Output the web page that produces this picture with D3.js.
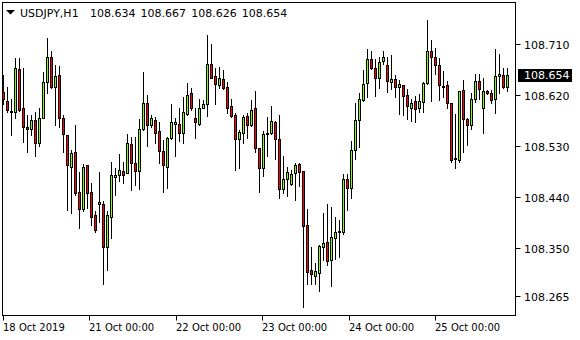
<!DOCTYPE html>
<html><head><meta charset="utf-8">
<script src="https://cdn.jsdelivr.net/npm/d3@7/dist/d3.min.js"></script>
<style>
html,body{margin:0;padding:0;background:#fff;}
svg{display:block;}
text{font-family:"DejaVu Sans",sans-serif;fill:#000;}
</style></head>
<body>
<svg id="chart" width="580" height="340"></svg>
<script>
const symbol = "USDJPY,H1";
const open = [108.624,108.609,108.590,108.590,108.665,108.596,108.562,108.560,108.575,108.534,
108.579,108.642,108.686,108.634,108.654,108.578,108.549,108.493,108.519,108.448,
108.418,108.495,108.448,108.407,108.427,108.428,108.351,108.405,108.475,108.479,
108.486,108.481,108.533,108.499,108.486,108.559,108.605,108.567,108.576,108.555,
108.520,108.493,108.543,108.569,108.569,108.552,108.586,108.622,108.579,108.569,
108.597,108.604,108.674,108.653,108.637,108.647,108.633,108.600,108.584,108.541,
108.553,108.582,108.566,108.596,108.525,108.491,108.550,108.553,108.572,108.542,
108.454,108.471,108.462,108.481,108.497,108.485,108.391,108.310,108.301,108.306,
108.351,108.360,108.329,108.368,108.377,108.377,108.471,108.455,108.523,108.576,
108.610,108.640,108.683,108.667,108.650,108.679,108.672,108.643,108.647,108.634,
108.636,108.620,108.597,108.608,108.596,108.607,108.640,108.697,108.686,108.672,
108.635,108.636,108.605,108.508,108.505,108.628,108.577,108.567,108.613,108.644,
108.597,108.626,108.622,108.612,108.652,108.654,108.634];
const high = [108.654,108.633,108.612,108.684,108.684,108.667,108.584,108.584,108.590,108.597,
108.660,108.719,108.697,108.672,108.670,108.584,108.549,108.522,108.566,108.484,
108.497,108.495,108.465,108.414,108.484,108.432,108.414,108.502,108.490,108.515,
108.502,108.550,108.546,108.546,108.577,108.660,108.619,108.584,108.581,108.572,
108.540,108.546,108.603,108.578,108.597,108.616,108.640,108.631,108.596,108.613,
108.610,108.725,108.710,108.666,108.668,108.663,108.643,108.613,108.588,108.558,
108.584,108.587,108.610,108.626,108.525,108.556,108.580,108.600,108.573,108.584,
108.511,108.493,108.487,108.499,108.500,108.485,108.418,108.352,108.323,108.355,
108.411,108.427,108.421,108.405,108.399,108.480,108.480,108.538,108.606,108.623,
108.663,108.701,108.697,108.683,108.686,108.697,108.686,108.690,108.654,108.646,
108.637,108.629,108.613,108.618,108.621,108.643,108.751,108.716,108.702,108.684,
108.662,108.644,108.606,108.586,108.626,108.646,108.579,108.622,108.656,108.657,
108.650,108.628,108.628,108.701,108.691,108.666,108.667];
const low = [108.603,108.590,108.548,108.578,108.591,108.537,108.519,108.549,108.511,108.530,
108.578,108.622,108.632,108.566,108.563,108.518,108.417,108.412,108.443,108.384,
108.415,108.420,108.390,108.377,108.396,108.287,108.311,108.368,108.443,108.468,
108.465,108.481,108.451,108.461,108.453,108.558,108.530,108.563,108.535,108.499,
108.449,108.455,108.542,108.511,108.538,108.534,108.584,108.593,108.544,108.566,
108.596,108.583,108.649,108.603,108.632,108.630,108.587,108.581,108.487,108.490,
108.535,108.543,108.565,108.519,108.449,108.477,108.511,108.551,108.506,108.437,
108.447,108.442,108.461,108.434,108.458,108.246,108.287,108.287,108.287,108.274,
108.328,108.320,108.283,108.331,108.333,108.375,108.417,108.438,108.506,108.528,
108.608,108.616,108.665,108.618,108.631,108.673,108.625,108.630,108.616,108.586,
108.584,108.577,108.573,108.572,108.589,108.590,108.639,108.609,108.657,108.611,
108.615,108.597,108.502,108.491,108.501,108.518,108.532,108.559,108.607,108.613,
108.553,108.621,108.606,108.588,108.622,108.631,108.626];
const close = [108.612,108.593,108.591,108.666,108.593,108.563,108.559,108.576,108.534,108.578,
108.642,108.687,108.634,108.653,108.578,108.550,108.495,108.517,108.446,108.418,
108.493,108.446,108.405,108.382,108.430,108.351,108.407,108.478,108.478,108.487,
108.479,108.535,108.499,108.486,108.559,108.606,108.567,108.578,108.553,108.521,
108.495,108.544,108.571,108.572,108.552,108.589,108.620,108.597,108.571,108.597,
108.603,108.673,108.650,108.639,108.649,108.632,108.597,108.583,108.541,108.554,
108.580,108.566,108.593,108.526,108.491,108.550,108.552,108.573,108.541,108.453,
108.471,108.483,108.480,108.496,108.484,108.389,108.308,108.303,108.309,108.354,
108.358,108.327,108.369,108.378,108.380,108.471,108.455,108.523,108.576,108.612,
108.639,108.683,108.666,108.649,108.678,108.687,108.644,108.647,108.634,108.639,
108.618,108.599,108.606,108.595,108.608,108.640,108.697,108.686,108.672,108.636,
108.635,108.606,108.504,108.508,108.626,108.577,108.567,108.613,108.644,108.630,
108.626,108.623,108.610,108.653,108.657,108.634,108.654];
const priceTicks = [108.710, 108.620, 108.530, 108.440, 108.350, 108.265];
const timeLabels = ["18 Oct 2019","21 Oct 00:00","22 Oct 00:00","23 Oct 00:00","24 Oct 00:00","25 Oct 00:00"];

const N = open.length;
const svg = d3.select("#chart");
const frame = {l: 2.5, t: 2.5, r: 515.5, b: 315.5};
const barStep = 4;
const x = d3.scaleLinear().domain([0, N - 1]).range([3.5, 3.5 + barStep * (N - 1)]);
const y = d3.scaleLinear().domain([108.265, 108.710]).range([296, 43.5]);
const labelStepBars = 21.62;

const data = open.map((o, i) => ({i, o, h: high[i], l: low[i], c: close[i]}));

// candles
const g = svg.append("g");
const cand = g.selectAll("g.c").data(data).join("g").attr("class", "c");
cand.append("line")
  .attr("x1", d => x(d.i)).attr("x2", d => x(d.i))
  .attr("y1", d => Math.round(y(d.h)))
  .attr("y2", d => Math.round(y(d.l)) + 1)
  .attr("stroke", "#000").attr("stroke-width", 1);
cand.append("rect")
  .attr("x", d => x(d.i) - 1)
  .attr("width", 2)
  .attr("y", d => Math.round(y(Math.max(d.o, d.c))) + 0.5)
  .attr("height", d => Math.max(1, Math.round(y(Math.min(d.o, d.c))) - Math.round(y(Math.max(d.o, d.c)))))
  .attr("fill", d => d.c >= d.o ? "#7fff00" : "#ff0000")
  .attr("stroke", "#000").attr("stroke-width", 1);

// frame
svg.append("rect")
  .attr("x", frame.l).attr("y", frame.t)
  .attr("width", frame.r - frame.l).attr("height", frame.b - frame.t)
  .attr("fill", "none").attr("stroke", "#000").attr("stroke-width", 1);

// price axis
const pa = svg.append("g");
priceTicks.forEach(p => {
  const yy = Math.round(y(p)) + 0.5;
  pa.append("line").attr("x1", frame.r).attr("x2", frame.r + 5)
    .attr("y1", yy).attr("y2", yy).attr("stroke", "#000");
  pa.append("text").attr("x", 524).attr("y", yy + 4)
    .attr("font-size", "11px").text(p.toFixed(3));
});

// current price box
const last = close[N - 1];
const ly = Math.round(y(last));
svg.append("rect").attr("x", 518).attr("y", ly - 6).attr("width", 54).attr("height", 13).attr("fill", "#000");
svg.append("text").attr("x", 524).attr("y", ly + 4).attr("font-size", "11px")
  .style("fill", "#fff").text(last.toFixed(3));

// time axis
const ta = svg.append("g");
timeLabels.forEach((lab, k) => {
  const xx = Math.round(x(k * labelStepBars) - 0.5) + 0.5;
  ta.append("line").attr("x1", xx).attr("x2", xx)
    .attr("y1", frame.b).attr("y2", frame.b + 5).attr("stroke", "#000");
  ta.append("text").attr("x", xx - 0.5).attr("y", 331)
    .attr("font-size", "10px").text(lab);
});

// header
svg.append("path").attr("d", "M6,10 L15,10 L10.5,14.5 Z").attr("fill", "#000");
svg.append("text").attr("x", 20).attr("y", 17).attr("font-size", "11px").text(symbol);
[open[N-1], high[N-1], low[N-1], close[N-1]].forEach((v, k) => {
  svg.append("text").attr("x", 90 + k * 50.6).attr("y", 17).attr("font-size", "11px").text(v.toFixed(3));
});
</script>
</body></html>
